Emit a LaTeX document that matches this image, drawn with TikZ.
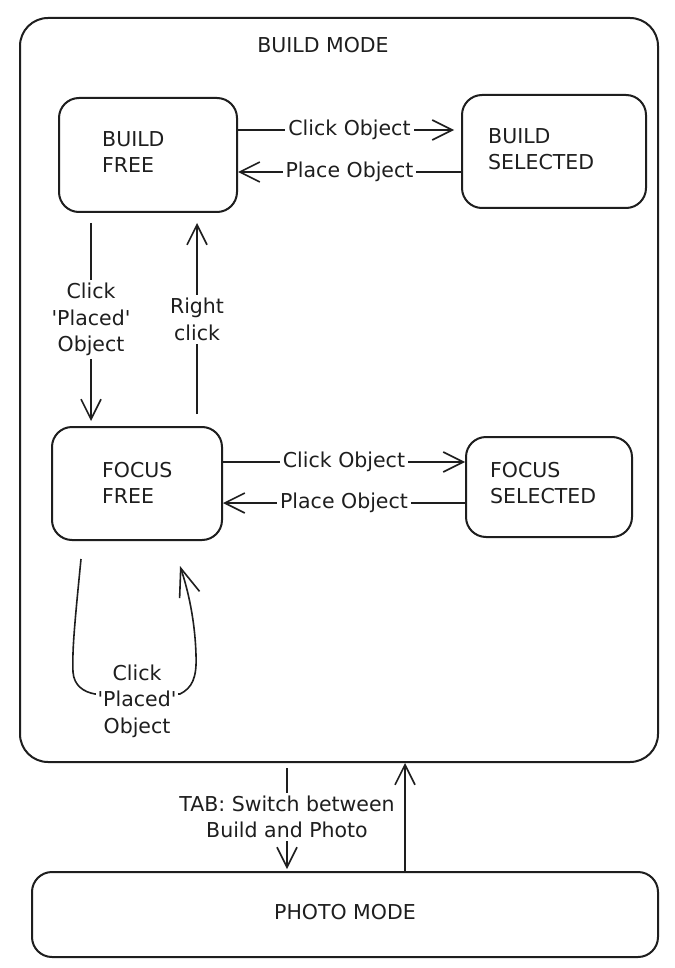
\documentclass[tikz,border=0pt]{standalone}
\usepackage{fontspec}
\setmainfont{DejaVu Sans}
\usetikzlibrary{arrows.meta,calc}
\definecolor{ink}{HTML}{1E1E1E}
\newcommand{\sq}{\textquotesingle}
\begin{document}
\begin{tikzpicture}[x=1pt,y=-1pt,
  every node/.style={font=\fontsize{20.5}{26.5}\selectfont, text=ink},
  statebox/.style={draw=ink, line width=2pt, rounded corners=20pt, inner sep=0pt},
  lbl/.style={align=left, anchor=west, inner sep=0pt},
  arr/.style={draw=ink, line width=1.6pt, -{Straight Barb[length=20pt,width=20pt,line width=1.6pt]}},
  tag/.style={fill=white, align=center, inner sep=3pt}
]
\useasboundingbox[fill=white] (0,0) rectangle (674,968);

% containers
\node[statebox, rounded corners=28pt, minimum width=638pt, minimum height=744pt] (build) at (339,390) {};
\node (buildt) at (323,45) {BUILD MODE};
\node[statebox, minimum width=626pt, minimum height=85pt] (photo) at (345,914.5) {};
\node (photot) at (345,912) {PHOTO MODE};

% states
\node[statebox, minimum width=178pt, minimum height=114pt] (bfree) at (148,155) {};
\node[lbl] (bfreet) at (102,152) {BUILD\\FREE};
\node[statebox, minimum width=184pt, minimum height=113pt] (bsel) at (554,151.5) {};
\node[lbl] (bselt) at (488,149) {BUILD\\SELECTED};
\node[statebox, minimum width=170pt, minimum height=113pt] (ffree) at (137,483.5) {};
\node[lbl] (ffreet) at (102,483) {FOCUS\\FREE};
\node[statebox, minimum width=166pt, minimum height=100pt] (fsel) at (549,487) {};
\node[lbl] (fselt) at (490,483) {FOCUS\\SELECTED};

% build transitions
\draw[arr, shorten >=7pt] (bfree.east |- 0,130) -- node[tag] {Click Object} (bsel.west |- 0,130);
\draw[arr] (bsel.west |- 0,172) -- node[tag] {Place Object} (bfree.east |- 0,172);
\draw[arr, shorten <=10pt, shorten >=5pt] (bfree.south -| 91,0) -- node[tag] {Click\\\sq Placed\sq\\Object} (ffree.north -| 91,0);
\draw[arr, shorten <=12pt, shorten >=10pt] (ffree.north -| 197,0) -- node[tag] {Right\\click} (bfree.south -| 197,0);

% focus transitions
\draw[arr] (ffree.east |- 0,462) -- node[tag] {Click Object} (fsel.west |- 0,462);
\draw[arr] (fsel.west |- 0,503) -- node[tag] {Place Object} (ffree.east |- 0,503);

% self loop
\draw[arr, -{Straight Barb[length=28pt,width=21pt,line width=1.6pt]}]
  ([shift={(-56pt,-18pt)}]ffree.south) .. controls (75,620) and (72,650) .. (73,672)
  .. controls (74,686) and (84,692) .. (95,694) -- (137,694) node[tag, inner sep=2pt] (loopt) at (137,701) {Click\\\sq Placed\sq\\Object}
  (137,694) -- (180,694) .. controls (192,688) and (197,678) .. (196,655)
  .. controls (195,620) and (188,590) .. ([shift={(43pt,-25pt)}]ffree.south);

% mode switch
\draw[arr, shorten <=5pt, shorten >=2pt] (build.south -| 287,0) -- node[tag] {TAB: Switch between\\Build and Photo} (photo.north -| 287,0);
\draw[arr] (photo.north -| 405,0) -- (build.south -| 405,0);
\end{tikzpicture}
\end{document}
